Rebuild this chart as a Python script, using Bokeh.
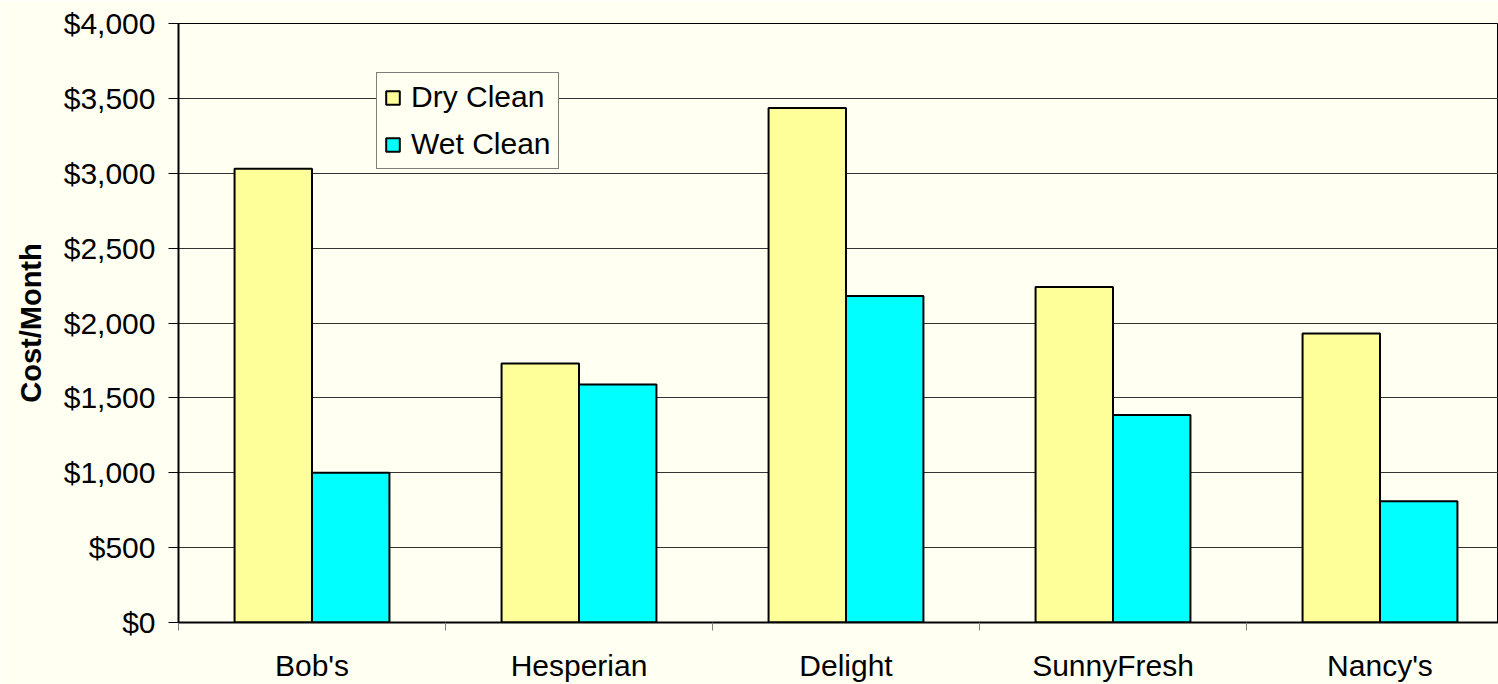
import numpy as np
from bokeh.plotting import figure
from bokeh.models import (Range1d, FixedTicker, NumeralTickFormatter, ColumnDataSource,
                          Legend, LegendItem)
from bokeh.transform import dodge
from bokeh.embed import file_html
from bokeh.resources import INLINE

categories = ["Bob's", "Hesperian", "Delight", "SunnyFresh", "Nancy's"]
dry_clean = [3030, 1730, 3435, 2240, 1930]
wet_clean = [1000, 1590, 2180, 1385, 810]
y_ticks = [0, 500, 1000, 1500, 2000, 2500, 3000, 3500, 4000]

BG = "#FFFFF2"
FONT = "Liberation Sans"

W, H = 1498, 684
LEFT, TOP, BOTTOM = 178, 23, 62
CAT_PX = 267

pos = np.arange(len(categories)) + 0.5
src = ColumnDataSource(dict(x=pos, dry=dry_clean, wet=wet_clean, cat=categories))

p = figure(width=W, height=H, output_backend="svg", toolbar_location=None,
           x_range=Range1d(0, (W - LEFT) / CAT_PX), y_range=Range1d(0, 4000),
           min_border_left=LEFT, min_border_top=TOP, min_border_bottom=BOTTOM,
           min_border_right=0,
           background_fill_color=BG, border_fill_color=BG)
p.outline_line_color = "black"
p.outline_line_width = 1

r_dry = p.vbar(x=dodge("x", -0.145), top="dry", width=0.29, source=src,
               fill_color="#FFFF99", line_color="black", line_width=2)
r_wet = p.vbar(x=dodge("x", 0.145), top="wet", width=0.29, source=src,
               fill_color="#00FFFF", line_color="black", line_width=2)

# x axis
xa = p.xaxis[0]
xa.ticker = FixedTicker(ticks=list(pos), minor_ticks=list(range(len(categories) + 1)))
xa.major_label_overrides = {float(v): c for v, c in zip(pos, categories)}
xa.major_tick_line_color = None
xa.major_tick_out = 0
xa.major_tick_in = 0
xa.minor_tick_line_color = "#808080"
xa.minor_tick_out = 8
xa.minor_tick_in = 0
xa.major_label_standoff = 18
xa.major_label_text_font = FONT
xa.major_label_text_font_size = "30px"
xa.major_label_text_color = "black"
xa.axis_line_color = "black"
xa.axis_line_width = 2

# y axis
ya = p.yaxis[0]
ya.ticker = FixedTicker(ticks=y_ticks)
ya.formatter = NumeralTickFormatter(format="$0,0")
ya.major_tick_out = 10
ya.major_tick_in = 0
ya.minor_tick_line_color = None
ya.major_tick_line_color = "black"
ya.major_label_standoff = 13
ya.major_label_text_font = FONT
ya.major_label_text_font_size = "30px"
ya.major_label_text_color = "black"
ya.axis_line_color = "black"
ya.axis_line_width = 2
ya.axis_label = "Cost/Month"
ya.axis_label_text_font = FONT
ya.axis_label_text_font_size = "29px"
ya.axis_label_text_font_style = "bold"
ya.axis_label_text_color = "black"
ya.axis_label_standoff = 14

p.xgrid.grid_line_color = None
p.ygrid.ticker = FixedTicker(ticks=y_ticks)
p.ygrid.grid_line_color = "#333333"
p.ygrid.grid_line_width = 1

legend = Legend(items=[LegendItem(label="Dry Clean", renderers=[r_dry]),
                       LegendItem(label="Wet Clean", renderers=[r_wet])],
                location=(198, 453))
legend.label_text_font = FONT
legend.label_text_font_size = "30px"
legend.label_text_color = "black"
legend.glyph_width = 17
legend.glyph_height = 17
legend.label_standoff = 10
legend.spacing = 13
legend.padding = 7
legend.margin = 0
legend.border_line_color = "black"
legend.border_line_width = 1
legend.background_fill_color = BG
legend.background_fill_alpha = 1
p.add_layout(legend, "center")

open("out.html", "w").write(file_html(p, INLINE))
